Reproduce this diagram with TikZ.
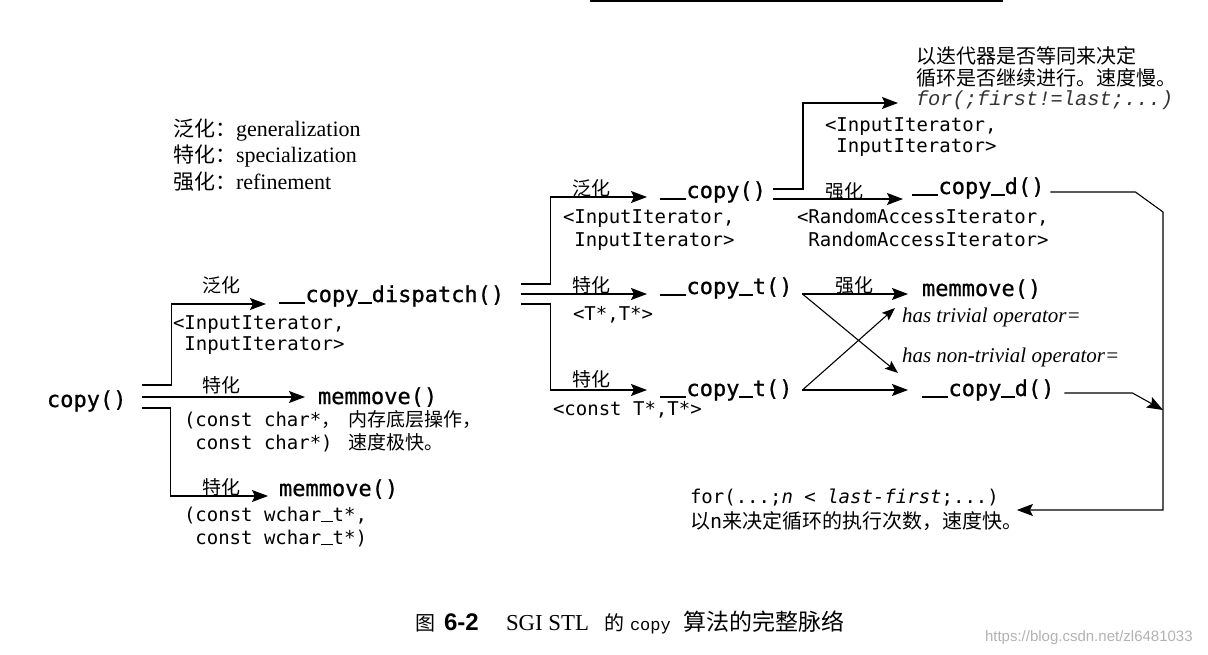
\documentclass[tikz,border=0pt]{standalone}
\usepackage{fontspec}
\setmainfont{Liberation Serif}
\setmonofont{DejaVu Sans Mono}
\newfontfamily\fnfont{DejaVu Sans Mono}[FakeBold=0.8]
\newfontfamily\cjk{Noto Sans CJK SC}
\newfontfamily\cour{Liberation Mono}
\newfontfamily\hel{Liberation Sans}
\newcommand\us{\rule[-0.07em]{0.602em}{0.08em}}
\usetikzlibrary{arrows.meta}
\tikzset{
 txt/.style={anchor=base west, inner sep=0pt, outer sep=0pt},
 fn/.style={txt, font=\fnfont\fontsize{22}{24}\selectfont},
 arg/.style={txt, font=\ttfamily\fontsize{19}{21}\selectfont},
 lbl/.style={txt, font=\cjk\fontsize{19}{21}\selectfont},
 zhb/.style={txt, font=\cjk\fontsize{20}{22}\selectfont},
 note/.style={txt, font=\itshape\fontsize{21}{23}\selectfont},
 legend/.style={txt, font=\fontsize{22}{24}\selectfont},
 ln/.style={line width=1.1pt, line join=miter},
 arr/.style={ln, -{Stealth[length=16pt,width=12pt,inset=3pt]}},
 sarr/.style={ln, -{Stealth[length=13pt,width=10pt,inset=2.5pt]}},
}
\begin{document}
\begin{tikzpicture}[x=1pt,y=-1pt]
\useasboundingbox (0,0) rectangle (1208,655);
% header rule (scan edge)
\draw[line width=2pt] (590,1) -- (1003,1);

% legend
\node[legend] (lg1) at (173,137) {{\cjk\fontsize{21}{23}\selectfont 泛化：}generalization};
\node[legend] (lg2) at (173,163) {{\cjk\fontsize{21}{23}\selectfont 特化：}specialization};
\node[legend] (lg3) at (173,190) {{\cjk\fontsize{21}{23}\selectfont 强化：}refinement};

% left column
\node[fn] (copy) at (47,407) {copy()};
\node[lbl] (g1) at (202,292) {泛化};
\node[fn] (disp) at (279,302) {\us\us copy\us dispatch()};
\node[arg] (ii1a) at (173,329) {<InputIterator,};
\node[arg] (ii1b) at (184.4,350) {InputIterator>};

\node[lbl] (s1) at (202,392) {特化};
\node[fn] (mm1) at (318,404) {memmove()};
\node[arg] (cc1) at (184,426) {(const char*};
\node[lbl] (cc1c) at (321,426) {，};
\node[lbl] (cc1z) at (348,426) {内存底层操作，};
\node[arg] (cc2) at (195.4,449) {const char*)};
\node[lbl] (cc2z) at (348,449) {速度极快。};

\node[lbl] (s2) at (202,494) {特化};
\node[fn] (mm2) at (279,496) {memmove()};
\node[arg] (wc1) at (184,521) {(const wchar\us t*,};
\node[arg] (wc2) at (195.4,544) {const wchar\us t*)};

% middle column
\node[lbl] (g2) at (572,196) {泛化};
\node[fn] (cp) at (660,198) {\us\us copy()};
\node[arg] (ii2a) at (563,224) {<InputIterator,};
\node[arg] (ii2b) at (574.4,247) {InputIterator>};
\node[lbl] (s3) at (572,293) {特化};
\node[fn] (ct1) at (660,294) {\us\us copy\us t()};
\node[arg] (tt) at (573,320) {<T*,T*>};
\node[lbl] (s4) at (572,386) {特化};
\node[fn] (ct2) at (660,396) {\us\us copy\us t()};
\node[arg] (ctt) at (553,415) {<const T*,T*>};

% right column
\node[zhb] (slow1) at (916,64) {以迭代器是否等同来决定};
\node[zhb] (slow2) at (916,86) {循环是否继续进行。速度慢。};
\node[txt, font=\cour\itshape\fontsize{20.4}{22}\selectfont, text=black!80] (forA) at (916,106) {for(;first!=last;...)};
\node[arg] (ii3a) at (825,132) {<InputIterator,};
\node[arg] (ii3b) at (836.4,153) {InputIterator>};

\node[lbl] (r1) at (825,199) {强化};
\node[fn] (cd1) at (912,194) {\us\us copy\us d()};
\node[arg] (ra1) at (797,224) {<RandomAccessIterator,};
\node[arg] (ra2) at (808.4,247) {RandomAccessIterator>};
\node[lbl] (r2) at (835,293) {强化};
\node[fn] (mm3) at (922,296) {memmove()};
\node[note] (triv) at (902,322) {has trivial operator=};
\node[note] (ntriv) at (902,362) {has non-trivial operator=};
\node[fn] (cd2) at (922,396) {\us\us copy\us d()};

\node[arg] (forB) at (690,503) {for(...;\textit{n} < \textit{last-first};...)};
\node[zhb] (fastzh) at (690,528) {以{\ttfamily n}来决定循环的执行次数，速度快。};

% caption
\node[txt, font=\cjk\fontsize{20}{22}\selectfont] (cap1) at (415,630) {图};
\node[txt, font=\hel\bfseries\fontsize{24}{26}\selectfont] (cap2) at (444,630) {6-2};
\node[txt, font=\fontsize{22.8}{25}\selectfont] (cap3) at (506,630) {SGI STL};
\node[txt, font=\cjk\fontsize{20}{22}\selectfont] (cap4) at (604,630) {的};
\node[txt, font=\cour\fontsize{17}{19}\selectfont] (cap5) at (630,630) {copy};
\node[txt, font=\cjk\fontsize{23}{25}\selectfont] (cap6) at (683,630) {算法的完整脉络};
\node[txt, font=\hel\fontsize{15}{17}\selectfont, text=black!30] (wm) at (985,641) {https://blog.csdn.net/zl6481033};

% junction coordinates
\coordinate (vtop) at (1163,212);
\coordinate (merge) at (1163,410);
\coordinate (vbot) at (1163,510);

% connectors: copy()
\draw[arr] ([xshift=16pt,yshift=22pt]copy.base east) -- ++(29,0) |- ([xshift=-13pt,yshift=-2pt]disp.base west);
\draw[arr] ([xshift=16pt,yshift=10pt]copy.base east) -- ([xshift=-13pt,yshift=7pt]mm1.base west);
\draw[arr] ([xshift=16pt,yshift=-1pt]copy.base east) -- ++(28,0) |- ([xshift=-11pt]mm2.base west);

% connectors: __copy_dispatch()
\draw[arr] ([xshift=17pt,yshift=18pt]disp.base east) -- ++(29,0) |- ([xshift=-13pt,yshift=1pt]cp.base west);
\draw[arr] ([xshift=17pt,yshift=8pt]disp.base east) -- ([xshift=-13pt]ct1.base west);
\draw[arr] ([xshift=17pt,yshift=-2pt]disp.base east) -- ++(29,0) |- ([xshift=-13pt,yshift=6pt]ct2.base west);

% connectors: __copy()
\draw[arr] ([xshift=7pt,yshift=9pt]cp.base east) -- ++(30,0) |- ([xshift=-18pt,yshift=3pt]forA.base west);
\draw[arr] ([xshift=7pt,yshift=-1pt]cp.base east) -- ([xshift=-9pt,yshift=-5pt]cd1.base west);

% connectors: __copy_t()
\draw[arr] ([xshift=10pt]ct1.base east) -- ([xshift=-14pt,yshift=2pt]mm3.base west);
\draw[sarr] ([xshift=10pt]ct1.base east) -- ([xshift=-24pt,yshift=23pt]cd2.base west);
\draw[arr] ([xshift=10pt,yshift=6pt]ct2.base east) -- ([xshift=-14pt,yshift=6pt]cd2.base west);
\draw[sarr] ([xshift=10pt,yshift=6pt]ct2.base east) -- ([xshift=-27pt,yshift=-12pt]mm3.base west);

% connectors: __copy_d()
\draw[arr] ([xshift=6pt,yshift=2pt]cd1.base east) -- ++(85,0) -- (vtop) -- (vbot) -- ([xshift=18pt,yshift=-7pt]forB.base east);
\draw[arr] ([xshift=10pt,yshift=3pt]cd2.base east) -- ++(68,0) -- (merge);
\end{tikzpicture}
\end{document}
